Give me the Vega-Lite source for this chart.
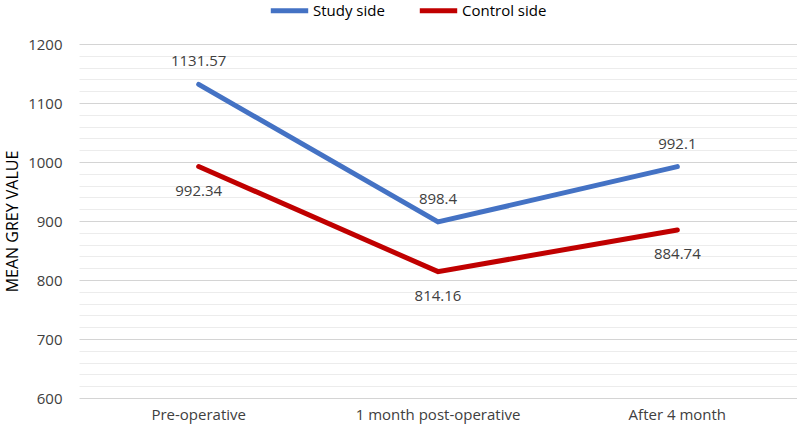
{
  "$schema": "https://vega.github.io/schema/vega-lite/v6.json",
  "autosize": "none",
  "width": 718,
  "height": 354,
  "padding": {"left": 79, "top": 44, "right": 0, "bottom": 30},
  "background": "white",
  "config": {
    "font": "Open Sans",
    "view": {"stroke": null}
  },
  "data": {
    "values": [
      {"stage": "Pre-operative", "side": "Study side", "value": 1131.57},
      {"stage": "1 month post-operative", "side": "Study side", "value": 898.4},
      {"stage": "After 4 month", "side": "Study side", "value": 992.1},
      {"stage": "Pre-operative", "side": "Control side", "value": 992.34},
      {"stage": "1 month post-operative", "side": "Control side", "value": 814.16},
      {"stage": "After 4 month", "side": "Control side", "value": 884.74}
    ]
  },
  "encoding": {
    "x": {
      "field": "stage",
      "type": "nominal",
      "sort": ["Pre-operative", "1 month post-operative", "After 4 month"],
      "scale": {"type": "band", "paddingInner": 0, "paddingOuter": 0},
      "axis": {
        "title": null,
        "labelAngle": 0,
        "labelFontSize": 15,
        "labelColor": "#404040",
        "labelPadding": 9,
        "ticks": false,
        "domain": false,
        "grid": false
      }
    },
    "y": {
      "field": "value",
      "type": "quantitative",
      "scale": {"domain": [600, 1200], "nice": false, "zero": false},
      "axis": {
        "title": "MEAN GREY VALUE",
        "titleFontSize": 16,
        "titleFontWeight": "normal",
        "titleColor": "#000000",
        "titlePadding": 7,
        "labelFontSize": 15,
        "labelColor": "#404040",
        "labelPadding": 17,
        "values": [600, 620, 640, 660, 680, 700, 720, 740, 760, 780, 800, 820, 840, 860, 880, 900, 920, 940, 960, 980, 1000, 1020, 1040, 1060, 1080, 1100, 1120, 1140, 1160, 1180, 1200],
        "labelExpr": "datum.value % 100 === 0 ? datum.label : ''",
        "format": "d",
        "ticks": false,
        "domain": false,
        "grid": true,
        "gridColor": {"condition": {"test": "datum.value % 100 === 0", "value": "#d4d4d4"}, "value": "#ececec"},
        "gridWidth": 1
      }
    }
  },
  "layer": [
    {
      "mark": {"type": "line", "strokeWidth": 5, "strokeCap": "round", "strokeJoin": "miter"},
      "encoding": {
        "color": {
          "field": "side",
          "type": "nominal",
          "scale": {"domain": ["Study side", "Control side"], "range": ["#4472C4", "#C00000"]},
          "legend": {
            "title": null,
            "orient": "none",
            "legendX": 189,
            "legendY": -55,
            "direction": "horizontal",
            "symbolType": "stroke",
            "symbolSize": 1400,
            "symbolStrokeWidth": 5,
            "labelFontSize": 15,
            "labelColor": "#000000",
            "labelOffset": 2,
            "columnPadding": 24
          }
        }
      }
    },
    {
      "transform": [{"filter": "datum.side === 'Study side'"}],
      "mark": {"type": "text", "dy": -23, "fontSize": 15, "color": "#404040"},
      "encoding": {"text": {"field": "value", "type": "quantitative"}}
    },
    {
      "transform": [{"filter": "datum.side === 'Control side'"}],
      "mark": {"type": "text", "dy": 24, "fontSize": 15, "color": "#404040"},
      "encoding": {"text": {"field": "value", "type": "quantitative"}}
    }
  ]
}
